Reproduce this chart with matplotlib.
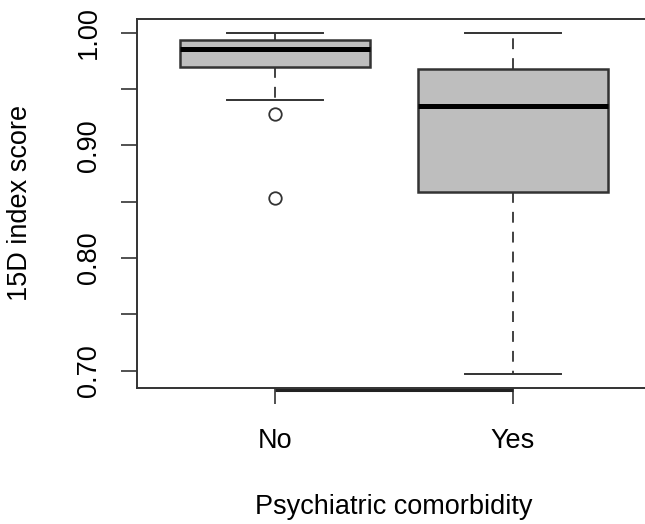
import matplotlib
matplotlib.use('Agg')
import matplotlib.pyplot as plt
import matplotlib.transforms as mtransforms

# group stats
groups = ['No', 'Yes']
whislo = [0.940, 0.697]
q1 = [0.970, 0.859]
med = [0.986, 0.935]
q3 = [0.9935, 0.968]
whishi = [1.000, 1.000]
fliers = [[0.928, 0.853], []]

yticks = [0.70, 0.80, 0.90, 1.00]
yminor = [0.75, 0.85, 0.95]

plt.rcParams['font.family'] = ['Liberation Sans', 'DejaVu Sans']

fig = plt.figure(figsize=(6.45, 5.24), dpi=100)
ax = fig.add_axes([137 / 645, 1 - 388 / 524, (651 - 137) / 645, (388 - 19) / 524])

stats = []
for i in range(len(groups)):
    stats.append(dict(label=groups[i], whislo=whislo[i], q1=q1[i], med=med[i],
                      q3=q3[i], whishi=whishi[i], fliers=fliers[i]))

edge = '#333333'
ax.bxp(stats, positions=[1, 2], widths=0.8, patch_artist=True,
       boxprops=dict(facecolor='#bebebe', edgecolor=edge, linewidth=1.8),
       medianprops=dict(color='black', linewidth=3.6, solid_capstyle='butt'),
       whiskerprops=dict(color=edge, linewidth=1.3, linestyle=(0, (6, 5))),
       capprops=dict(color=edge, linewidth=1.4),
       capwidths=0.4,
       flierprops=dict(marker='o', markersize=9, markerfacecolor='none',
                       markeredgecolor=edge, markeredgewidth=1.3))

ax.set_xlim(0.42, 2.58)
ax.set_ylim(0.6846, 1.0122)

ax.set_xticks([1, 2])
ax.set_xticklabels(groups)
ax.set_yticks(yticks + yminor)
ax.set_yticklabels(['%.2f' % v for v in yticks] + [''] * len(yminor), rotation=90, va='center')
ax.tick_params(axis='both', labelsize=19.5, length=11.5, width=1.2, color=edge)
ax.tick_params(axis='x', pad=17)
ax.tick_params(axis='y', pad=14)

for s in ax.spines.values():
    s.set_color(edge)
    s.set_linewidth(1.4)

# R draws the x axis line from the first to the last group on top of the frame
shifted = mtransforms.offset_copy(ax.get_xaxis_transform(), fig=fig, y=-1.5, units='dots')
ax.plot([1, 2], [0, 0], transform=shifted, color='#222222',
        lw=2.2, clip_on=False, solid_capstyle='butt', zorder=5)

fig.text(20 / 645, 1 - 203 / 524, '15D index score', rotation=90,
         ha='center', va='center', fontsize=19.5)
fig.text(394 / 645, 1 - 507 / 524, 'Psychiatric comorbidity',
         ha='center', va='center', fontsize=19.5)

fig.savefig('out.png', dpi=100)
